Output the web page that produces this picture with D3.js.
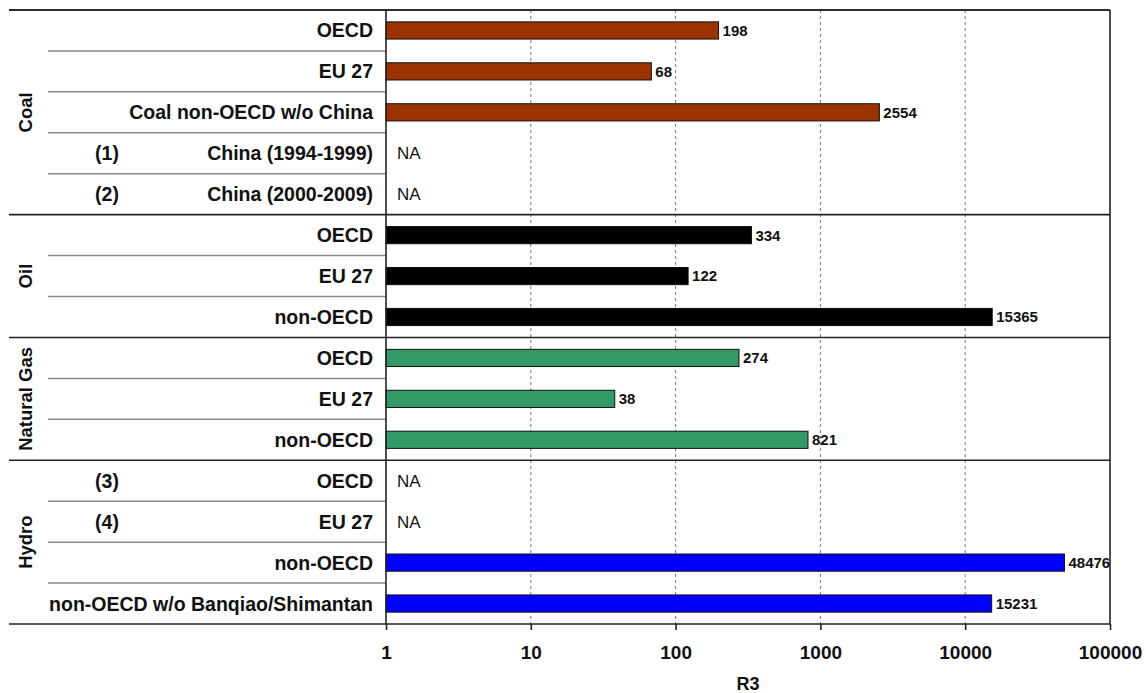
<!DOCTYPE html>
<html>
<head>
<meta charset="utf-8">
<script src="https://cdn.jsdelivr.net/npm/d3@7"></script>
<style>
  body { margin: 0; background: #fff; }
  text { font-family: "Liberation Sans", Arial, sans-serif; fill: #111; }
</style>
</head>
<body>
<svg id="chart" width="1146" height="693"></svg>
<script>
// data
const groups = ['Coal', 'Oil', 'Natural Gas', 'Hydro'];
const rowGroups = ['Coal', 'Coal', 'Coal', 'Coal', 'Coal', 'Oil', 'Oil', 'Oil',
  'Natural Gas', 'Natural Gas', 'Natural Gas', 'Hydro', 'Hydro', 'Hydro', 'Hydro'];
const rowLabels = ['OECD', 'EU 27', 'Coal non-OECD w/o China', 'China (1994-1999)', 'China (2000-2009)',
  'OECD', 'EU 27', 'non-OECD',
  'OECD', 'EU 27', 'non-OECD',
  'OECD', 'EU 27', 'non-OECD', 'non-OECD w/o Banqiao/Shimantan'];
const rowNotes = ['', '', '', '(1)', '(2)', '', '', '', '', '', '', '(3)', '(4)', '', ''];
const values = [198, 68, 2554, null, null, 334, 122, 15365, 274, 38, 821, null, null, 48476, 15231];
const tickValues = [1, 10, 100, 1000, 10000, 100000];
const groupColors = { Coal: '#9a3300', Oil: '#000000', 'Natural Gas': '#339966', Hydro: '#0000ff' };

const svg = d3.select('#chart');
const plotLeft = 386;
const plotRight = 1110;
const plotTop = 10;
const plotBottom = 624;

const rows = rowLabels.map((label, i) => ({
  id: i, label, group: rowGroups[i], note: rowNotes[i], value: values[i],
}));

const x = d3.scaleLog().domain([1, 100000]).range([plotLeft, plotRight]);
const y = d3.scaleBand()
  .domain(rows.map((d) => d.id))
  .range([plotTop, plotBottom])
  .paddingInner(0.58)
  .paddingOuter(0.29);
const step = y.step();
const rowTop = (d) => y(d.id) - (step - y.bandwidth()) / 2;
const rowMid = (d) => y(d.id) + y.bandwidth() / 2;

// dashed grid lines
svg.append('g')
  .selectAll('line')
  .data(tickValues.slice(1, -1))
  .enter()
  .append('line')
  .attr('x1', (d) => x(d))
  .attr('x2', (d) => x(d))
  .attr('y1', plotTop)
  .attr('y2', plotBottom)
  .attr('stroke', '#777')
  .attr('stroke-width', 1)
  .attr('stroke-dasharray', '3,3');

// thin separators between rows inside a group
const inner = rows.filter((d, i) => i > 0 && rowGroups[i - 1] === d.group);
svg.append('g')
  .selectAll('line')
  .data(inner)
  .enter()
  .append('line')
  .attr('x1', 48)
  .attr('x2', plotLeft)
  .attr('y1', rowTop)
  .attr('y2', rowTop)
  .attr('stroke', '#8a8a8a')
  .attr('stroke-width', 1.5);

// full width lines between groups
const firsts = groups.map((g) => rows.find((d) => d.group === g));
const groupTops = firsts.map(rowTop);
svg.append('g')
  .selectAll('line')
  .data(groupTops.concat([plotBottom]))
  .enter()
  .append('line')
  .attr('x1', 9)
  .attr('x2', plotRight)
  .attr('y1', (d) => d)
  .attr('y2', (d) => d)
  .attr('stroke', '#222')
  .attr('stroke-width', 1.6);

// bars
const withValue = rows.filter((d) => d.value !== null);
svg.append('g')
  .selectAll('rect')
  .data(withValue)
  .enter()
  .append('rect')
  .attr('x', x(1))
  .attr('y', (d) => y(d.id))
  .attr('width', (d) => x(d.value) - x(1))
  .attr('height', y.bandwidth())
  .attr('fill', (d) => groupColors[d.group])
  .attr('stroke', '#111')
  .attr('stroke-width', 1);

// value labels
svg.append('g')
  .selectAll('text')
  .data(withValue)
  .enter()
  .append('text')
  .attr('x', (d) => x(d.value) + 4)
  .attr('y', rowMid)
  .attr('dy', '0.36em')
  .attr('font-size', 15)
  .attr('font-weight', 'bold')
  .text((d) => d.value);

// NA marks
svg.append('g')
  .selectAll('text')
  .data(rows.filter((d) => d.value === null))
  .enter()
  .append('text')
  .attr('x', plotLeft + 11)
  .attr('y', rowMid)
  .attr('dy', '0.36em')
  .attr('font-size', 17)
  .text('NA');

// row labels
svg.append('g')
  .selectAll('text')
  .data(rows)
  .enter()
  .append('text')
  .attr('x', plotLeft - 13)
  .attr('y', rowMid)
  .attr('dy', '0.36em')
  .attr('text-anchor', 'end')
  .attr('font-size', 19.5)
  .attr('font-weight', 'bold')
  .text((d) => d.label);

// footnote numbers
svg.append('g')
  .selectAll('text')
  .data(rows.filter((d) => d.note))
  .enter()
  .append('text')
  .attr('x', 107)
  .attr('y', rowMid)
  .attr('dy', '0.36em')
  .attr('text-anchor', 'middle')
  .attr('font-size', 19.5)
  .attr('font-weight', 'bold')
  .text((d) => d.note);

// group labels, rotated
svg.append('g')
  .selectAll('text')
  .data(groups)
  .enter()
  .append('text')
  .attr('transform', (g, i) => {
    const y0 = groupTops[i];
    const y1 = i < groups.length - 1 ? groupTops[i + 1] : plotBottom;
    return `translate(25,${(y0 + y1) / 2}) rotate(-90)`;
  })
  .attr('dy', '0.36em')
  .attr('text-anchor', 'middle')
  .attr('font-size', 18.5)
  .attr('font-weight', 'bold')
  .text((g) => g);

// top border, right border, left axis line
[[9, plotTop, plotRight, plotTop], [plotRight, plotTop, plotRight, plotBottom],
  [plotLeft, plotTop, plotLeft, plotBottom]].forEach(([x1, y1, x2, y2]) => {
  svg.append('line')
    .attr('x1', x1).attr('y1', y1).attr('x2', x2).attr('y2', y2)
    .attr('stroke', '#222')
    .attr('stroke-width', 1.6);
});

// x axis
const xAxis = svg.append('g')
  .attr('transform', `translate(0,${plotBottom})`)
  .call(d3.axisBottom(x)
    .tickValues(tickValues)
    .tickFormat(d3.format('d'))
    .tickSize(6)
    .tickPadding(16));
xAxis.select('.domain').remove();
xAxis.selectAll('line').attr('stroke', '#222').attr('stroke-width', 1.6);
xAxis.selectAll('text')
  .attr('font-size', 19)
  .attr('font-weight', 'bold')
  .attr('font-family', '"Liberation Sans", Arial, sans-serif')
  .attr('fill', '#111');

svg.append('text')
  .attr('x', (plotLeft + plotRight) / 2)
  .attr('y', 690)
  .attr('text-anchor', 'middle')
  .attr('font-size', 18)
  .attr('font-weight', 'bold')
  .text('R3');
</script>
</body>
</html>
